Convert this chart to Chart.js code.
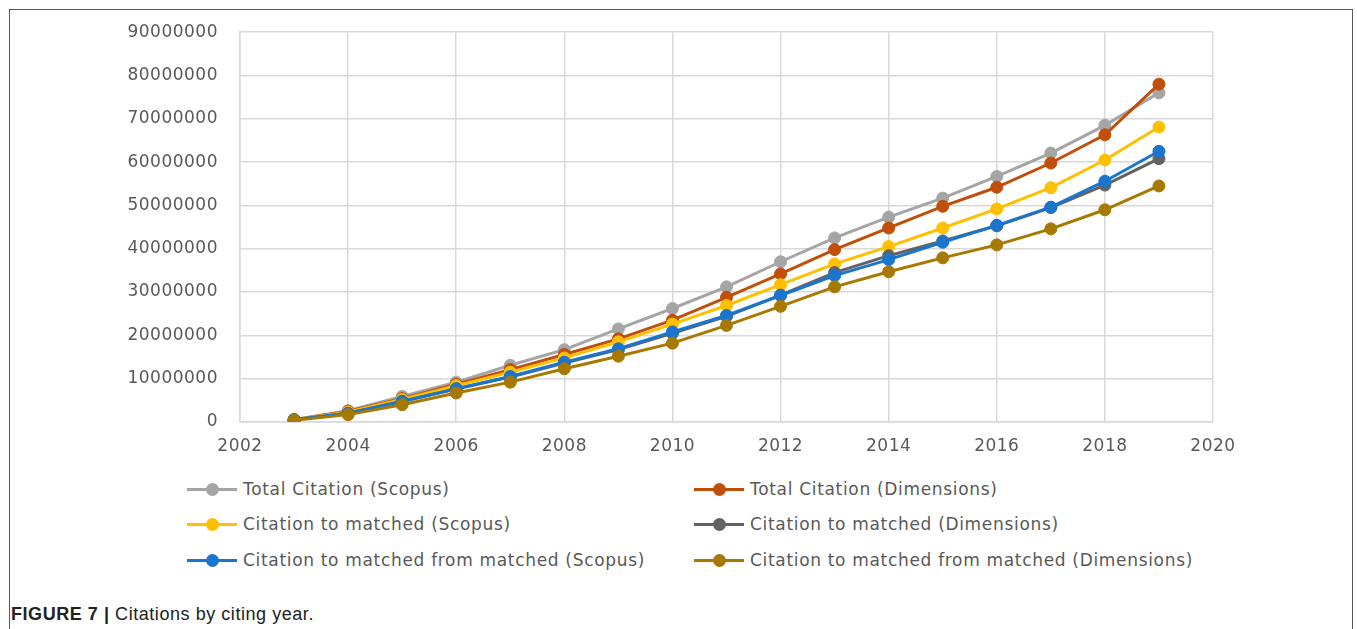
<!DOCTYPE html>
<html>
<head>
<meta charset="utf-8">
<script src="https://cdn.jsdelivr.net/npm/chart.js@4/dist/chart.umd.min.js"></script>
<style>
  html, body { margin: 0; padding: 0; background: #fff; width: 1357px; height: 629px; overflow: hidden; }
  #frame { position: absolute; left: 9px; top: 9px; width: 1344px; height: 660px; border: 1px solid #595959; box-sizing: border-box; }
  #c { position: absolute; left: 0; top: 0; }
  .leg { position: absolute; font-family: "DejaVu Sans", sans-serif; font-size: 17px; letter-spacing: 0.68px; color: #595959; white-space: nowrap; }
  .leg .sw { position: absolute; left: 0; top: 50%; width: 50px; height: 3px; margin-top: -1.5px; }
  .leg .dot { position: absolute; left: 19px; top: 50%; width: 13px; height: 13px; margin-top: -6.5px; border-radius: 50%; }
  .leg .tx { position: absolute; left: 56px; top: 50%; transform: translateY(-50%); }
  #caption { position: absolute; left: 11px; top: 604px; font-family: "Liberation Sans", Arial, sans-serif; font-size: 18px; letter-spacing: 0.55px; color: #222; white-space: nowrap; }
  #caption b { font-weight: bold; }
</style>
</head>
<body>
<div id="frame"></div>
<canvas id="c" width="1357" height="470"></canvas>
<div id="legend"></div>
<div id="caption"><b>FIGURE 7 |</b> Citations by citing year.</div>
<script>
const years = [2003, 2004, 2005, 2006, 2007, 2008, 2009, 2010, 2011, 2012, 2013, 2014, 2015, 2016, 2017, 2018, 2019];
const totalScopus      = [0.5, 2.6, 5.9, 9.2, 13.1, 16.7, 21.5, 26.2, 31.2, 37.0, 42.5, 47.3, 51.7, 56.7, 62.1, 68.5, 76.0];
const totalDimensions  = [0.5, 2.5, 5.4, 8.7, 12.1, 15.6, 19.2, 23.5, 28.8, 34.2, 39.8, 44.8, 49.8, 54.2, 59.8, 66.3, 78.0];
const ctmScopus        = [0.5, 2.3, 5.2, 8.4, 11.5, 14.8, 18.5, 22.6, 26.9, 31.7, 36.5, 40.5, 44.8, 49.2, 54.1, 60.5, 68.1];
const ctmDimensions    = [0.5, 2.0, 4.7, 7.6, 10.4, 13.6, 16.7, 20.5, 24.4, 29.3, 34.5, 38.4, 41.8, 45.3, 49.5, 54.7, 60.8];
const ctmfmScopus      = [0.5, 2.0, 4.8, 7.7, 10.5, 13.8, 16.9, 20.8, 24.6, 29.2, 33.8, 37.5, 41.5, 45.4, 49.6, 55.6, 62.5];
const ctmfmDimensions  = [0.4, 1.7, 4.0, 6.7, 9.2, 12.3, 15.2, 18.2, 22.3, 26.7, 31.2, 34.7, 37.9, 40.9, 44.6, 49.0, 54.5];
const MILLION = 1000000;

const seriesNames = [
  "Total Citation (Scopus)",
  "Total Citation (Dimensions)",
  "Citation to matched (Scopus)",
  "Citation to matched (Dimensions)",
  "Citation to matched from matched (Scopus)",
  "Citation to matched from matched (Dimensions)"
];
const seriesValues = [totalScopus, totalDimensions, ctmScopus, ctmDimensions, ctmfmScopus, ctmfmDimensions];
const seriesColors = ["#A5A5A5", "#C04F0A", "#FFC000", "#636363", "#1A75CF", "#A87900"];

const datasets = seriesNames.map((name, i) => ({
  label: name,
  data: years.map((y, j) => ({ x: y, y: seriesValues[i][j] * MILLION })),
  order: seriesNames.length - 1 - i,
  borderColor: seriesColors[i],
  backgroundColor: seriesColors[i],
  pointBackgroundColor: seriesColors[i],
  pointBorderColor: seriesColors[i],
  borderWidth: 3,
  pointRadius: 6,
  pointBorderWidth: 1,
  tension: 0,
  fill: false
}));

const spacingPlugin = {
  id: "spacing",
  beforeDraw: chart => { chart.ctx.letterSpacing = "0.5px"; }
};

const tickFont = { family: "DejaVu Sans", size: 17 };
new Chart(document.getElementById("c"), {
  type: "line",
  data: { datasets },
  plugins: [spacingPlugin],
  options: {
    responsive: false,
    animation: false,
    layout: { padding: { top: 31, right: 144, left: 0, bottom: 0 } },
    plugins: { legend: { display: false }, tooltip: { enabled: false } },
    scales: {
      x: {
        type: "linear",
        min: 2002, max: 2020,
        ticks: { stepSize: 2, color: "#595959", font: tickFont, padding: 14, callback: v => String(v), maxRotation: 0 },
        grid: { color: "#D9D9D9", lineWidth: 1.5, drawTicks: false },
        border: { color: "#D9D9D9", width: 1.5 },
        afterFit: s => { s.height = 48; }
      },
      y: {
        min: 0, max: 90000000,
        ticks: { stepSize: 10000000, color: "#595959", font: tickFont, padding: 22, callback: v => String(v) },
        grid: { color: "#D9D9D9", lineWidth: 1.5, drawTicks: false },
        border: { color: "#D9D9D9", width: 1.5 },
        afterFit: s => { s.width = 240; }
      }
    }
  }
});

// HTML legend in two columns, built from the series definitions
const legendPos = [
  { left: 187, top: 489 }, { left: 694, top: 489 },
  { left: 187, top: 524 }, { left: 694, top: 524 },
  { left: 187, top: 560 }, { left: 694, top: 560 }
];
const legend = document.getElementById("legend");
seriesNames.forEach((name, i) => {
  const d = document.createElement("div");
  d.className = "leg";
  d.style.left = legendPos[i].left + "px";
  d.style.top = (legendPos[i].top - 12) + "px";
  d.style.height = "24px";
  d.style.width = "560px";
  d.innerHTML = '<span class="sw" style="background:' + seriesColors[i] + '"></span>' +
                '<span class="dot" style="background:' + seriesColors[i] + '"></span>' +
                '<span class="tx"></span>';
  d.querySelector(".tx").textContent = name;
  legend.appendChild(d);
});
</script>
</body>
</html>
